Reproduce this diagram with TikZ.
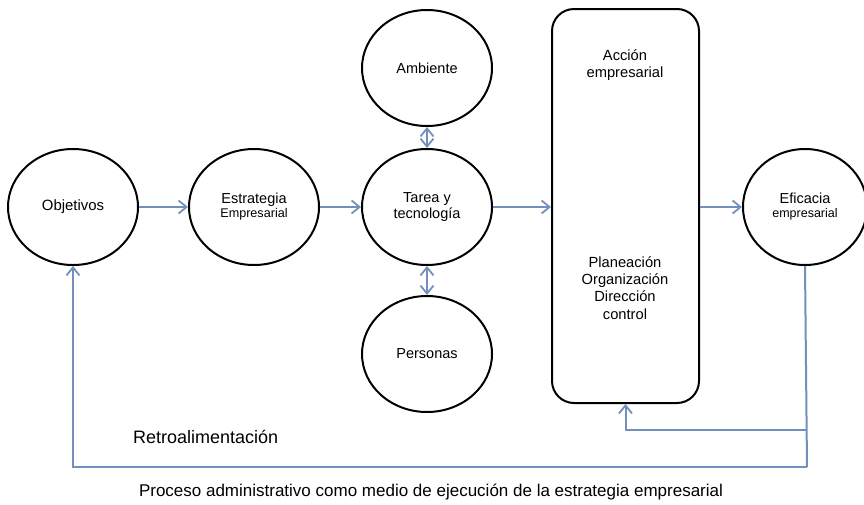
\documentclass[tikz,border=0pt]{standalone}
\usepackage{fontspec}
\setmainfont{Liberation Sans}
\usetikzlibrary{shapes.geometric,arrows.meta}
\definecolor{fbblue}{HTML}{7290BA}
\tikzset{
  circ/.style={ellipse, draw=black, line width=2pt, minimum width=130pt, minimum height=116pt, inner sep=0pt, align=center, font=\fontsize{14.5}{16}\selectfont},
  blk/.style={draw=black, line width=2pt, rounded corners=22pt, minimum width=147pt, minimum height=394pt, inner sep=0pt},
  txt/.style={align=center, font=\fontsize{14.7}{17.3}\selectfont, inner sep=0pt},
  tip/.style={Straight Barb[length=8pt,width=13pt,line width=1.8pt]},
  arr/.style={draw=fbblue, line width=2pt, -{Straight Barb[length=8pt,width=13pt,line width=1.8pt]}},
  dbl/.style={draw=fbblue, line width=2pt, {Straight Barb[length=8pt,width=13pt,line width=1.8pt]}-{Straight Barb[length=8pt,width=13pt,line width=1.8pt]}},
  ln/.style={draw=fbblue, line width=2pt}
}
\begin{document}
\begin{tikzpicture}[x=1pt,y=-1pt]
\useasboundingbox (0,0) rectangle (864,504);
\node[circ] (obj) at (73,207) {\fontsize{14.9}{16}\selectfont Objetivos};
\node[circ] (est) at (254,207) {Estrategia\\[-2pt]{\fontsize{12.6}{14}\selectfont Empresarial}};
\node[circ] (tar) at (427,207) {Tarea y\\tecnología};
\node[circ] (amb) at (427,68) {Ambiente};
\node[circ] (per) at (427,354) {Personas};
\node[blk] (acc) at (625.5,206) {};
\node[txt] (acct) at (625,65) {Acción\\empresarial};
\node[txt] (proc) at (625,288) {Planeación\\Organización\\Dirección\\control};
\node[circ, minimum width=124pt] (efi) at (805,207) {Eficacia\\[-2pt]{\fontsize{12.5}{14}\selectfont empresarial}};
\coordinate (b1) at (807,430);
\coordinate (b2) at (807,467);
\draw[arr] (obj.east) -- (est.west);
\draw[arr] (est.east) -- (tar.west);
\draw[arr] (tar.east) -- (acc.west |- tar.east);
\draw[arr] (acc.east |- efi.west) -- (efi.west);
\draw[dbl] (amb.south) -- (tar.north);
\draw[dbl] (tar.south) -- (per.north);
\draw[ln] (efi.south) -- (b2);
\draw[arr] (b2) -| (obj.south);
\draw[arr] (b1) -| (acc.south);
\node[anchor=west, font=\fontsize{18}{20}\selectfont, inner sep=0pt] (retro) at (133,437) {Retroalimentación};
\node[font=\fontsize{17}{19}\selectfont, inner sep=0pt] (cap) at (431,492) {Proceso administrativo como medio de ejecución de la estrategia empresarial};
\end{tikzpicture}
\end{document}
